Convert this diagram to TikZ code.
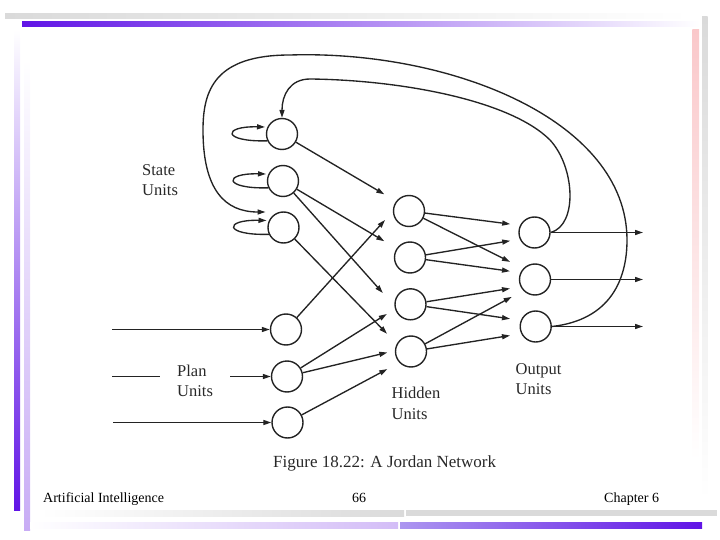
\documentclass[tikz,border=0pt]{standalone}
\usepackage{fontspec}
\setmainfont{Liberation Serif}
\usetikzlibrary{arrows.meta,calc}
\definecolor{ink}{RGB}{35,35,35}
\definecolor{txt}{RGB}{40,40,40}
\definecolor{purp}{RGB}{96,20,230}
\definecolor{lav}{RGB}{200,172,245}
\definecolor{barg}{RGB}{218,218,218}
\definecolor{pinkb}{RGB}{250,200,202}
\definecolor{lpurp}{RGB}{172,150,240}
\begin{document}
\begin{tikzpicture}[x=1pt,y=-1pt,
  unit/.style={circle,draw=ink,line width=1.4pt,minimum size=31pt,inner sep=0pt},
  conn/.style={draw=ink,line width=1.35pt,-{Triangle[length=8pt,width=5pt]}},
  plainline/.style={draw=ink,line width=1.35pt},
  lab/.style={anchor=base west,inner sep=0pt,text=txt,font=\fontsize{16.5}{19}\selectfont},
  foot/.style={anchor=base west,inner sep=0pt,text=black,font=\fontsize{14}{16}\selectfont}]

\useasboundingbox (0,0) rectangle (720,540);

% decorative bars
\shade[left color=barg,right color=white] (5,13.5) rectangle (690,18.5);
\shade[left color=purp,right color=white] (22,22) rectangle (700,26.7);
\shade[top color=barg,bottom color=white] (702,16.7) rectangle (707.7,500);
\shade[top color=pinkb,bottom color=white] (692.3,30) rectangle (699,460);
\shade[top color=white,bottom color=purp] (14,30) rectangle (20,510.7);
\shade[top color=white,bottom color=lav] (24,60) rectangle (30,530.7);
\shade[left color=white,right color=barg] (40,510) rectangle (404,516);
\fill[barg] (406,510) rectangle (717,516);
\shade[left color=white,right color=lav!80] (30,522) rectangle (398,528.7);
\shade[left color=lpurp,right color=purp] (400,522) rectangle (702,528.7);

% units
\node[unit] (s1) at (282,134) {};
\node[unit] (s2) at (283,181) {};
\node[unit] (s3) at (283.5,227.5) {};
\node[unit] (p1) at (286,329.5) {};
\node[unit] (p2) at (287,376.5) {};
\node[unit] (p3) at (287.5,422.5) {};
\node[unit] (h1) at (409,211) {};
\node[unit] (h2) at (410,257.5) {};
\node[unit] (h3) at (410.5,304.3) {};
\node[unit] (h4) at (411,351.5) {};
\node[unit] (o1) at (534.5,232.5) {};
\node[unit] (o2) at (535,279.5) {};
\node[unit] (o3) at (535.7,326.5) {};

% arrow end points near hidden units
\coordinate (h1a) at ($(h1)+(-24.7,-16.7)$);
\coordinate (h1b) at ($(h1)+(-24,9)$);
\coordinate (h2a) at ($(h2)+(-25.7,-16.3)$);
\coordinate (h3a) at ($(h3)+(-27.7,-11.3)$);
\coordinate (h3b) at ($(h3)+(-23.7,9.7)$);
\coordinate (h4a) at ($(h4)+(-24,-17.7)$);
\coordinate (h4b) at ($(h4)+(-23.7,1)$);
\coordinate (h4c) at ($(h4)+(-23.7,17.6)$);
% arrow end points near output units
\coordinate (o1a) at ($(o1)+(-24.3,-8.4)$);
\coordinate (o1b) at ($(o1)+(-24.3,8.3)$);
\coordinate (o2a) at ($(o2)+(-25,-17.6)$);
\coordinate (o2b) at ($(o2)+(-25,-8.3)$);
\coordinate (o2c) at ($(o2)+(-25,9)$);
\coordinate (o2d) at ($(o2)+(-23.3,17.4)$);
\coordinate (o3a) at ($(o3)+(-25.7,-7.7)$);
\coordinate (o3b) at ($(o3)+(-25.7,9)$);
% outputs
\coordinate (y1) at ($(o1)+(108.5,0)$);
\coordinate (y2) at ($(o2)+(108,0)$);
\coordinate (y3) at ($(o3)+(107.3,0)$);
% inputs
\coordinate (x1) at (112,329.5);
\coordinate (x2) at (112,376.5);
\coordinate (x2b) at (160,376.5);
\coordinate (x2c) at (230,376.5);
\coordinate (x3) at (113,422.5);
% feedback ends
\coordinate (fb3) at ($(s3)+(-18,-15.5)$);

% state/plan -> hidden
\draw[conn] (s1) -- (h1a);
\draw[conn] (s2) -- (h2a);
\draw[conn] (s2) -- (h3a);
\draw[conn] (s3) -- (h4a);
\draw[conn] (p1) -- (h1b);
\draw[conn] (p2) -- (h3b);
\draw[conn] (p2) -- (h4b);
\draw[conn] (p3) -- (h4c);
% hidden -> output
\draw[conn] (h1) -- (o1a);
\draw[conn] (h1) -- (o2a);
\draw[conn] (h2) -- (o1b);
\draw[conn] (h2) -- (o2b);
\draw[conn] (h3) -- (o2c);
\draw[conn] (h3) -- (o3a);
\draw[conn] (h4) -- (o2d);
\draw[conn] (h4) -- (o3b);
% outputs
\draw[conn] (o1) -- (y1);
\draw[conn] (o2) -- (y2);
\draw[conn] (o3) -- (y3);
% inputs
\draw[conn] (x1) -- (p1);
\draw[plainline] (x2) -- (x2b);
\draw[conn] (x2c) -- (p2);
\draw[conn] (x3) -- (p3);

% self loops
\draw[conn] (s1.205) .. controls ($(s1)+(-60,8)$) and ($(s1)+(-60,-8)$) .. ($(s1)+(-17,-7)$);
\draw[conn] (s2.205) .. controls ($(s2)+(-60,8)$) and ($(s2)+(-60,-8)$) .. ($(s2)+(-17,-7)$);
\draw[conn] (s3.205) .. controls ($(s3)+(-60,8)$) and ($(s3)+(-60,-8)$) .. ($(s3)+(-17,-7)$);

% feedback loops
\draw[conn] (o1.east) .. controls (578,225) and (575,167) .. (550,140)
  .. controls (510,100) and (400,80) .. (310,79)
  .. controls (290,79) and (282,95) .. (s1.north);
\draw[conn] (o3.east) .. controls (610,320) and (627,280) .. (627,240)
  .. controls (627,120) and (450,50) .. (290,55)
  .. controls (215,55) and (203,90) .. (203,130)
  .. controls (203,190) and (225,212) .. (fb3);

% labels
\node[lab] (stA) at (142,176) {State};
\node[lab] (stB) at (142,195.5) {Units};
\node[lab] (plA) at (177,376) {Plan};
\node[lab] (plB) at (177,396.7) {Units};
\node[lab] (hdA) at (391.5,398.3) {Hidden};
\node[lab] (hdB) at (391.5,419) {Units};
\node[lab] (otA) at (515.5,374) {Output};
\node[lab] (otB) at (515.5,394) {Units};
\node[lab,font=\fontsize{17}{20}\selectfont] (cap) at (273,467.5) {Figure 18.22: A Jordan Network};

% footer
\node[foot] (f1) at (43,502.7) {Artificial Intelligence};
\node[foot,anchor=base] (f2) at (359,502.7) {66};
\node[foot] (f3) at (604,502.7) {Chapter 6};
\end{tikzpicture}
\end{document}
